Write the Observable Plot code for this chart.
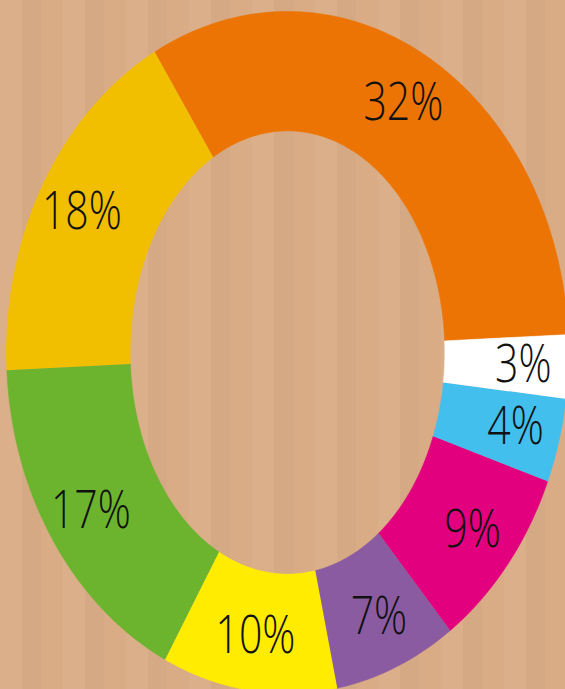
<!DOCTYPE html>
<html>
<head>
<meta charset="utf-8">
<script src="https://cdn.jsdelivr.net/npm/d3@7"></script>
<script src="https://cdn.jsdelivr.net/npm/@observablehq/plot@0.6"></script>
<style>
  html, body { margin: 0; padding: 0; overflow: hidden; }
  body {
    width: 565px; height: 689px;
    background-color: #d9ac86;
    background-image: repeating-linear-gradient(90deg,
      rgba(255,255,255,0.035) 0px, rgba(255,255,255,0.035) 22px,
      rgba(0,0,0,0.02) 22px, rgba(0,0,0,0.02) 41px,
      rgba(255,255,255,0.0) 41px, rgba(255,255,255,0.0) 63px);
  }
  #chart svg { display: block; overflow: hidden; }
</style>
</head>
<body>
<div id="chart"></div>
<script>
// Slices in drawing order (counter-clockwise from 3 o'clock)
const labels = ["32%", "18%", "17%", "10%", "7%", "9%", "4%", "3%"];
const values = [32, 18, 17, 10, 7, 9, 4, 3];
const colors = ["#ec7404", "#f1bf00", "#6cb42d", "#ffec00", "#8b5ba2", "#e2007e", "#43bfee", "#ffffff"];

const START = 3;            // degrees, counter-clockwise from 3 o'clock
const RX_IN = 0.56, RY_IN = 0.65, LABEL_R = 0.84;
const total = d3.sum(values);
const rad = d => d * Math.PI / 180;

const ring = [];
const labelRows = [];
let acc = 0;
values.forEach((v, i) => {
  const a0 = START + acc / total * 360;
  const a1 = a0 + v / total * 360;
  acc += v;
  const n = Math.max(2, Math.ceil(a1 - a0) + 1);
  for (let k = 0; k < n; k++) {
    const a = rad(a0 + (a1 - a0) * k / (n - 1));
    ring.push({label: labels[i], x: Math.cos(a), y: Math.sin(a)});
  }
  for (let k = n - 1; k >= 0; k--) {
    const a = rad(a0 + (a1 - a0) * k / (n - 1));
    ring.push({label: labels[i], x: RX_IN * Math.cos(a), y: RY_IN * Math.sin(a)});
  }
  const m = rad((a0 + a1) / 2);
  labelRows.push({label: labels[i], x: LABEL_R * Math.cos(m), y: LABEL_R * Math.sin(m)});
});

const chart = Plot.plot({
  width: 565,
  height: 689,
  margin: 0,
  x: {domain: [-1, 1], range: [6, 568], axis: null},
  y: {domain: [-1, 1], range: [693, 11], axis: null},
  color: {domain: labels, range: colors},
  style: {background: "transparent", overflow: "hidden"},
  marks: [
    Plot.line(ring, {x: "x", y: "y", z: "label", fill: "label", stroke: "label", strokeWidth: 0.6, curve: "linear"}),
    Plot.text(labelRows, {x: "x", y: "y", text: "label", fontSize: 41, fontWeight: 350, fill: "#111", fontFamily: "Open Sans, Noto Sans, sans-serif"})
  ]
});
chart.querySelectorAll("text").forEach(t => {
  const tr = t.getAttribute("transform") || "";
  t.setAttribute("transform", tr + " scale(1,1.3)");
});
document.getElementById("chart").appendChild(chart);
</script>
</body>
</html>
